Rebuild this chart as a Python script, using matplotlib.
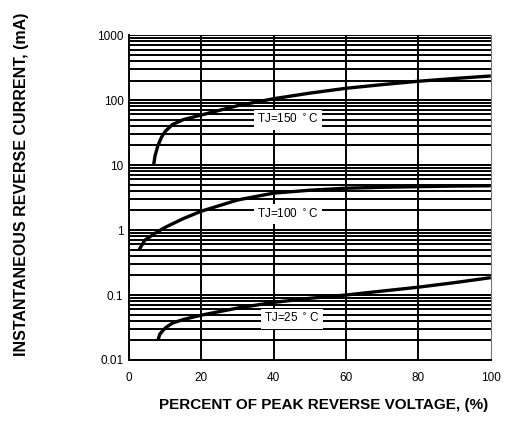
import numpy as np
import matplotlib.pyplot as plt

plt.rcParams['font.family'] = ['Liberation Sans', 'DejaVu Sans']

# curves (percent of peak reverse voltage, mA)
v150 = [6.8, 7.2, 8, 9, 10, 12, 15, 20, 30, 40, 50, 60, 70, 80, 90, 100]
i150 = [10, 14, 20, 27, 33, 42, 50, 59, 82, 105, 128, 152, 173, 195, 215, 235]

v100 = [2.8, 4.4, 7.7, 10, 15, 20, 30, 40, 50, 60, 70, 80, 90, 100]
i100 = [0.5, 0.7, 0.93, 1.1, 1.5, 1.95, 2.9, 3.7, 4.1, 4.4, 4.55, 4.65, 4.75, 4.8]

v25 = [8, 8.5, 10, 12, 15, 20, 30, 40, 50, 60, 70, 80, 90, 100]
i25 = [0.02, 0.025, 0.031, 0.037, 0.042, 0.049, 0.063, 0.077, 0.089, 0.1, 0.115, 0.132, 0.155, 0.185]

labels = ['TJ=150 $^\\circ$C', 'TJ=100 $^\\circ$C', 'TJ=25 $^\\circ$C']
label_pos = [(44, 50), (44, 1.75), (45, 0.043)]

xticks = [0, 20, 40, 60, 80, 100]
yticks = [0.01, 0.1, 1, 10, 100, 1000]
ytick_labels = ['0.01', '0.1', '1', '10', '100', '1000']

fig = plt.figure(figsize=(5.06, 4.23), dpi=100)
ax = fig.add_axes([0.255, 0.149, 0.715, 0.768])
ax.set_yscale('log')
ax.set_xlim(0, 100)
ax.set_ylim(0.01, 1000)

# horizontal grid at every decade step, vertical at every 20 %
for dec in [0.01, 0.1, 1, 10, 100]:
    for k in range(1, 11):
        ax.axhline(dec * k, color='black', lw=1.4, zorder=1)
for x in xticks[1:-1]:
    ax.axvline(x, color='black', lw=1.4, zorder=1)

for v, i in [(v150, i150), (v100, i100), (v25, i25)]:
    ax.plot(v, i, color='black', lw=2.4, solid_capstyle='butt', zorder=3)

for lab, (x, y) in zip(labels, label_pos):
    ax.text(x, y, lab, fontsize=8.5, ha='center', va='center', zorder=4,
            bbox=dict(facecolor='white', edgecolor='none', pad=2.5))

ax.set_xticks(xticks)
ax.set_xticklabels([str(t) for t in xticks], fontsize=8.5)
ax.set_yticks(yticks)
ax.set_yticklabels(ytick_labels, fontsize=8.5)
ax.minorticks_off()
ax.tick_params(axis='x', length=0, pad=9)
ax.tick_params(axis='y', length=0, pad=4)
ax.yaxis.set_minor_locator(plt.NullLocator())

for s in ['left', 'bottom']:
    ax.spines[s].set_linewidth(1.4)
ax.spines['top'].set_visible(False)
ax.spines['right'].set_color('#777777')
ax.spines['right'].set_linewidth(0.8)

fig.text(0.64, 0.042, 'PERCENT OF PEAK REVERSE VOLTAGE, (%)', fontsize=11,
         fontweight='bold', ha='center', va='center')
fig.text(0.042, 0.565, 'INSTANTANEOUS REVERSE CURRENT, (mA)', fontsize=11.5,
         fontweight='bold', ha='center', va='center', rotation=90)

fig.savefig('out.png', dpi=100)
